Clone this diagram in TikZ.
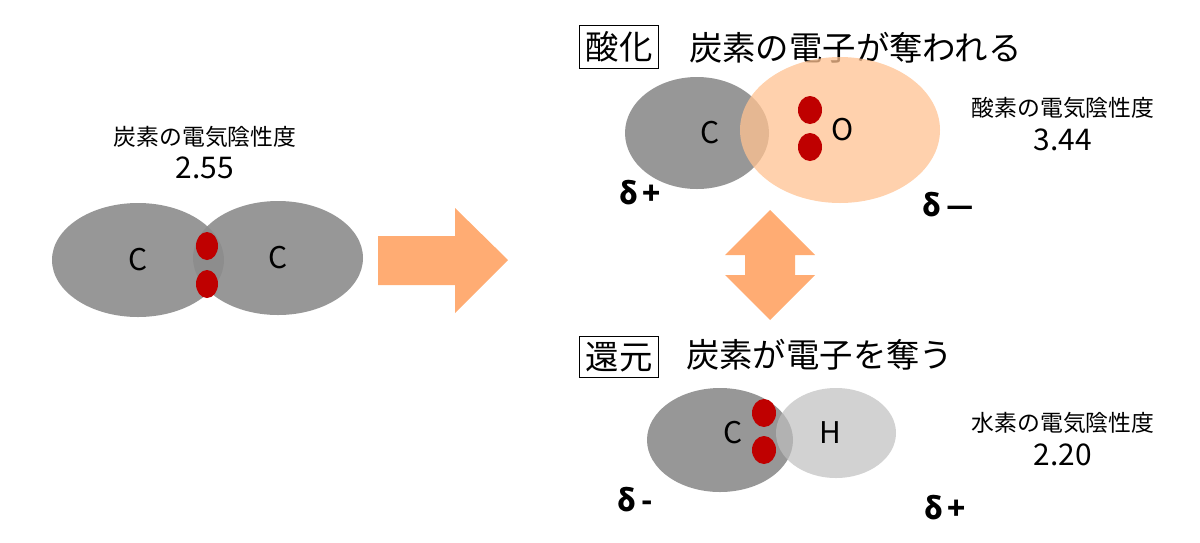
\documentclass[tikz,border=0pt]{standalone}
\usepackage{fontspec}
\setmainfont{Noto Sans CJK JP}
\begin{document}
\begin{tikzpicture}[x=0.02cm,y=-0.02cm,
 dot/.style={fill=red!75!black,draw=none},
 lbl/.style={font=\fontsize{13}{15}\selectfont},
 num/.style={font=\fontsize{17}{19}\selectfont},
 atom/.style={font=\fontsize{17}{19}\selectfont},
 big/.style={font=\fontsize{19}{22}\selectfont},
 box/.style={draw,line width=0.8pt,minimum width=1.52cm,minimum height=0.76cm,font=\fontsize{19}{22}\selectfont},
 dl/.style={font=\bfseries\fontsize{17}{19}\selectfont}]
\useasboundingbox (0,0) rectangle (1200,542);
\colorlet{cg}{black!45}
% left
\fill[cg,opacity=0.9] (138,260) ellipse [x radius=86,y radius=57];
\fill[cg,opacity=0.9] (278,258) ellipse [x radius=85,y radius=57];
\fill[dot] (207,246) ellipse [x radius=11,y radius=14];
\fill[dot] (207,284) ellipse [x radius=11,y radius=14];
\node[atom] (c1) at (138,260) {C};
\node[atom] (c2) at (278,258) {C};
\node[lbl] (l1) at (205,137) {炭素の電気陰性度};
\node[num] (n1) at (205,168) {2.55};
\fill[orange!50!white!90!red] (378,236) -- (455,236) -- (455,208) -- (508,260) -- (455,313) -- (455,285) -- (378,285) -- cycle;
% top
\node[box] (ox) at (619,47) {酸化};
\node[big,anchor=west] (t1) at (683,48) {炭素の電子が奪われる};
\fill[cg,opacity=0.9] (697,133) ellipse [x radius=72,y radius=56];
\fill[orange!40!white!95!red,opacity=0.75] (840,130) ellipse [x radius=100,y radius=73];
\fill[dot] (810,110) ellipse [x radius=12,y radius=14];
\fill[dot] (810,147) ellipse [x radius=12,y radius=14];
\node[atom] (c3) at (710,133) {C};
\node[atom] (o) at (843,130) {O};
\node[dl] (d1) at (640,193) {δ\,+};
\node[dl] (d2) at (948,205) {δ\,—};
\node[lbl] (l2) at (1063,108) {酸素の電気陰性度};
\node[num] (n2) at (1063,140) {3.44};
% double arrow
\fill[orange!50!white!90!red] (770,210) -- (815,255) -- (795,255) -- (795,275) -- (815,275) -- (770,320) -- (725,275) -- (745,275) -- (745,255) -- (725,255) -- cycle;
% bottom
\node[box] (rd) at (619,357) {還元};
\node[big,anchor=west] (t2) at (680,355) {炭素が電子を奪う};
\fill[cg,opacity=0.9] (720,440) ellipse [x radius=73,y radius=52];
\fill[black!25,opacity=0.7] (836,433) ellipse [x radius=60,y radius=45];
\fill[dot] (764,413) ellipse [x radius=12,y radius=14];
\fill[dot] (764,450) ellipse [x radius=12,y radius=14];
\node[atom] (c4) at (733,433) {C};
\node[atom] (h) at (830,433) {H};
\node[dl] (d3) at (635,500) {δ\,-};
\node[dl] (d4) at (945,508) {δ\,+};
\node[lbl] (l3) at (1063,423) {水素の電気陰性度};
\node[num] (n3) at (1063,455) {2.20};
\end{tikzpicture}
\end{document}
